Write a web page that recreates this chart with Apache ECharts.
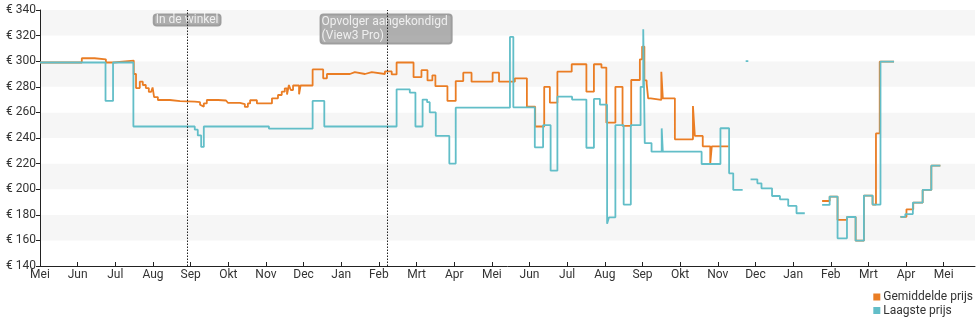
<!DOCTYPE html>
<html>
<head>
<meta charset="utf-8">
<script src="https://cdn.jsdelivr.net/npm/echarts@6/dist/echarts.min.js"></script>
<style>
  html, body { margin: 0; padding: 0; background: #fff; }
  #chart { width: 980px; height: 325px; }
</style>
</head>
<body>
<div id="chart"></div>
<script>
// Month ticks along the x axis (position 0 = first "Mei", one unit per month)
const monthLabels = ['Mei', 'Jun', 'Jul', 'Aug', 'Sep', 'Okt', 'Nov', 'Dec', 'Jan', 'Feb', 'Mrt', 'Apr',
                     'Mei', 'Jun', 'Jul', 'Aug', 'Sep', 'Okt', 'Nov', 'Dec', 'Jan', 'Feb', 'Mrt', 'Apr', 'Mei'];
const monthTicks = monthLabels.map((_, i) => i);

// Price axis
const priceMin = 140;
const priceMax = 340;
const priceStep = 20;

// Price changes: [month position, new price]; '-' marks a gap in the history
const avgPrice = [
  [0, 299], [1.11, 302.3], [1.45, 301.5], [1.75, 299], [1.96, 300.5],
  [2.49, 290], [2.55, 279], [2.65, 284], [2.73, 281.4], [2.81, 279], [2.89, 276],
  [2.95, 277.5], [2.99, 279.5], [3.03, 272], [3.13, 269.7], [3.45, 268.8], [3.72, 268.4],
  [4.11, 268], [4.25, 266], [4.30, 264.5], [4.35, 267], [4.43, 269.7], [4.73, 269.3],
  [4.94, 270], [4.99, 267.5], [5.31, 266.5], [5.44, 264.3], [5.52, 267], [5.58, 269.5],
  [5.76, 267], [6.16, 271], [6.32, 273.6], [6.42, 276.2], [6.50, 278.8], [6.56, 274],
  [6.61, 281.4], [6.66, 277.5], [6.72, 281], [6.88, 274.1], [6.92, 281],
  [7.24, 293.6], [7.52, 286.6], [7.62, 290], [8.23, 291.5], [8.36, 290], [8.63, 291.5],
  [8.81, 290], [9.16, 292], [9.34, 289.7], [9.47, 299], [9.92, 287.5], [10.13, 293],
  [10.29, 285], [10.42, 289], [10.50, 280.5], [10.82, 269], [11.04, 284.5], [11.24, 291],
  [11.46, 284], [12.02, 291], [12.19, 284], [12.61, 286.6], [12.93, 264.5], [13.15, 249],
  [13.39, 280], [13.54, 267.6], [13.74, 291.8], [14.12, 297.6], [14.51, 276.2],
  [14.71, 297.6], [14.91, 295], [15.04, 252], [15.28, 280], [15.47, 249.4], [15.70, 285.3],
  [15.93, 301.5], [15.99, 311.4], [16.05, 285], [16.11, 282.7], [16.15, 271], [16.22, 269.7],
  [16.50, 291.8], [16.54, 271], [16.86, 239], [17.34, 265], [17.39, 241.6], [17.60, 233.5],
  [17.80, 220.3], [17.84, 233.5], [18.29, '-'],
  [20.77, 190.8], [20.97, 194.2], [21.18, 176], [21.43, 178.3], [21.66, 159.8], [21.88, 195],
  [22.11, 188], [22.20, 243.6], [22.30, 299.6], [22.68, '-'],
  [22.85, 178.4], [23.01, 184.3], [23.19, 189.5], [23.44, 199.4], [23.67, 218.4], [23.91, '-']
];

const lowPrice = [
  [0, 299], [1.74, 269], [1.94, 299], [2.48, 249], [4.11, 246.5], [4.19, 242], [4.28, 233],
  [4.35, 249], [6.08, 247.3], [7.24, 269], [7.55, 249], [9.47, 278], [9.82, 275.5],
  [9.97, 249], [10.16, 270], [10.28, 268], [10.35, 260], [10.51, 241.6], [10.87, 220],
  [11.04, 263.7], [12.48, 319], [12.57, 264], [13.14, 232.7], [13.36, 250], [13.56, 214.5],
  [13.74, 272.3], [14.13, 270], [14.51, 232.4], [14.71, 270.5], [14.87, 266], [15.06, 173],
  [15.11, 178], [15.28, 250], [15.50, 188], [15.69, 250], [15.95, 280], [16.02, 325],
  [16.06, 236], [16.24, 229.3], [16.51, 247.5], [16.54, 229.3], [17.57, 219.7],
  [18.07, 247.6], [18.30, 212.4], [18.41, 199.4], [18.66, '-'],
  [18.74, 300], [18.81, '-'],
  [18.87, 207.7], [19.05, 204.6], [19.16, 200.7], [19.44, 194.7], [19.65, 192.1],
  [19.87, 186.9], [20.09, 181.2], [20.31, '-'],
  [20.77, 187.7], [20.97, 194.2], [21.18, 161.6], [21.43, 178.3], [21.66, 159.8],
  [21.88, 195], [22.11, 188], [22.32, 299.6], [22.68, '-'],
  [22.85, 178.4], [22.98, 180.6], [23.18, 189.5], [23.44, 199.4], [23.67, 218.4], [23.91, '-']
];

// Events marked with a dotted vertical line
const eventNames = ['In de winkel', 'Opvolger aangekondigd\n(View3 Pro)'];
const eventPos = [3.91, 9.23];
const eventBoxShift = [-33.5, -67];

const seriesNames = ['Gemiddelde prijs', 'Laagste prijs'];
const AVG_COLOR = '#ea7d24';
const LOW_COLOR = '#62bec8';
const FONT = 'Roboto, "Noto Sans", sans-serif';

const chart = echarts.init(document.getElementById('chart'), null, { renderer: 'canvas' });

chart.setOption({
  animation: false,
  backgroundColor: '#fff',
  textStyle: { fontFamily: FONT },
  grid: { left: 40, right: 5, top: 10, bottom: 59, containLabel: false },
  legend: {
    data: seriesNames,
    orient: 'vertical',
    right: 7,
    top: 291,
    padding: 0,
    itemWidth: 7,
    itemHeight: 7,
    itemGap: 1.5,
    icon: 'rect',
    textStyle: { fontSize: 12, lineHeight: 12, color: '#333', fontFamily: FONT, padding: [0, 0, 0, -2] }
  },
  xAxis: {
    type: 'value',
    min: 0,
    max: 24.83,
    interval: 1,
    axisLine: { show: true, lineStyle: { color: '#222', width: 1 } },
    axisTick: { show: true, inside: true, length: 4, customValues: monthTicks, lineStyle: { color: '#222' } },
    axisLabel: {
      customValues: monthTicks,
      formatter: v => monthLabels[Math.round(v)] || '',
      fontSize: 12, color: '#333', margin: 3, fontFamily: FONT
    },
    splitLine: { show: false }
  },
  yAxis: {
    type: 'value',
    min: priceMin,
    max: priceMax,
    interval: priceStep,
    axisLine: { show: true, lineStyle: { color: '#222', width: 1 } },
    axisTick: { show: true, length: 4, lineStyle: { color: '#222' } },
    axisLabel: { formatter: v => '€ ' + v, fontSize: 12, color: '#333', margin: 4, fontFamily: FONT },
    splitLine: { show: false },
    splitArea: { show: true, areaStyle: { color: ['#ffffff', '#f6f6f6'] } }
  },
  series: [
    {
      name: seriesNames[0],
      type: 'line',
      step: 'end',
      data: avgPrice,
      showSymbol: false,
      symbol: 'none',
      connectNulls: false,
      itemStyle: { color: AVG_COLOR },
      lineStyle: { color: AVG_COLOR, width: 1.8 },
      z: 2
    },
    {
      name: seriesNames[1],
      type: 'line',
      step: 'end',
      data: lowPrice,
      showSymbol: false,
      symbol: 'none',
      connectNulls: false,
      itemStyle: { color: LOW_COLOR },
      lineStyle: { color: LOW_COLOR, width: 1.8 },
      z: 3
    },
    {
      name: 'events',
      type: 'scatter',
      symbolSize: 0,
      silent: true,
      z: 4,
      data: eventPos.map((x, i) => ({
        value: [x, priceMax],
        label: {
          show: true,
          formatter: eventNames[i],
          position: [eventBoxShift[i], 4.5],
          align: 'left',
          verticalAlign: 'top',
          color: '#fff',
          fontSize: 12,
          lineHeight: i === 0 ? 11 : 14.5,
          fontFamily: FONT,
          backgroundColor: '#9c9c9c',
          borderColor: '#8a8a8a',
          borderWidth: 1,
          borderRadius: 3,
          padding: i === 0 ? [0, 2, 0, 2] : [0, 4, 0, 1]
        }
      })),
      markLine: {
        silent: true,
        symbol: ['none', 'none'],
        label: { show: false },
        z: 6,
        lineStyle: { color: '#222', type: [1.5, 1.5], width: 1 },
        data: eventPos.map(x => ({ xAxis: x }))
      }
    }
  ]
});
</script>
</body>
</html>
